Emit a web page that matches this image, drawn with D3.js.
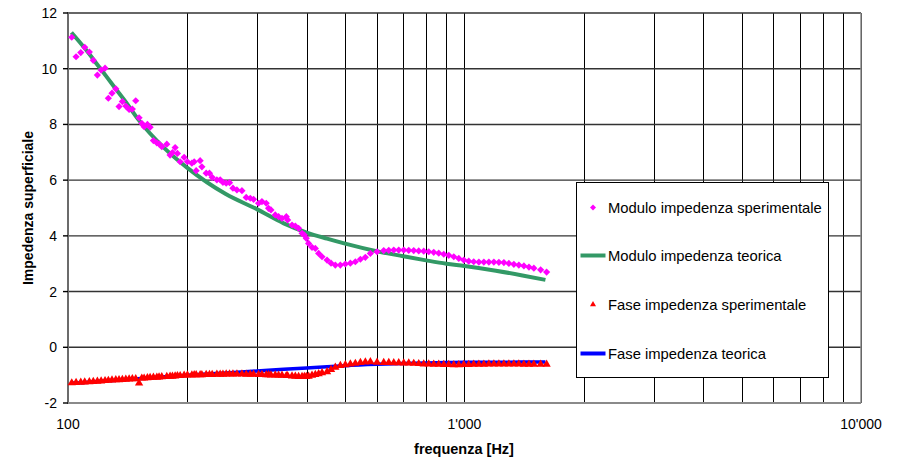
<!DOCTYPE html>
<html lang="it">
<head>
  <meta charset="utf-8" />
  <title>Impedenza superficiale</title>
  <script src="https://cdn.jsdelivr.net/npm/d3@7"></script>
  <style>
    body { margin: 0; background: #fff; }
    svg { display: block; font-family: Arial, "Liberation Sans", sans-serif; }
  </style>
</head>
<body>
<div id="chart"></div>
<script>
// measured data (frequency in Hz)
const freqExp = [102.2,104.8,107.7,110.2,113.2,115.8,118.6,121.2,124.0,126.4,129.1,132.0,134.5,137.1,139.9,142.6,145.3,148.2,151.1,153.5,
  155.6,158.6,161.1,164.2,167.5,169.7,172.4,177.5,180.9,183.4,186.3,188.8,191.8,196.3,200.1,205.3,208.1,210.5,215.4,217.6,
  223.1,227.4,231.0,237.4,242.0,245.9,250.6,255.5,260.6,266.7,274.6,281.5,288.2,293.8,302.4,308.4,316.2,320.5,325.0,333.2,
  339.7,346.5,355.3,358.0,367.3,374.4,381.6,389.3,394.5,399.0,404.4,412.5,420.5,428.7,437.2,450.1,460.7,472.3,486.3,500.6,
  515.4,530.6,546.3,562.3,578.9,601.8,625.6,644.2,663.1,682.5,702.7,723.4,744.7,766.6,789.2,812.4,836.4,861.0,886.6,912.6,
  939.7,967.4,995.9,1025,1055,1087,1119,1152,1186,1221,1257,1294,1332,1371,1412,1454,1496,1556,1611];
const moduloExp = [11.13,10.43,10.58,10.77,10.60,10.30,9.77,9.95,10.02,8.94,9.12,9.28,8.64,8.82,8.66,8.54,8.55,8.85,8.24,8.04,
  7.92,8.00,7.90,7.42,7.34,7.30,7.20,7.29,6.90,6.99,7.17,6.96,6.66,6.82,6.66,6.61,6.66,6.34,6.70,6.48,
  6.25,6.25,6.10,6.01,6.01,5.92,5.89,5.91,5.71,5.65,5.62,5.38,5.35,5.31,5.17,5.23,5.17,4.99,4.93,4.75,
  4.69,4.63,4.69,4.57,4.39,4.35,4.27,4.09,4.03,3.91,3.73,3.59,3.55,3.37,3.25,3.13,3.02,2.95,2.95,2.99,
  3.02,3.07,3.16,3.23,3.37,3.43,3.47,3.48,3.49,3.49,3.49,3.48,3.47,3.46,3.45,3.43,3.41,3.38,3.34,3.30,
  3.25,3.19,3.13,3.09,3.07,3.06,3.06,3.06,3.06,3.05,3.04,3.01,2.98,2.95,2.92,2.88,2.84,2.78,2.70];
const faseExp = [-1.28,-1.27,-1.26,-1.25,-1.24,-1.23,-1.22,-1.21,-1.20,-1.19,-1.18,-1.17,-1.17,-1.16,-1.15,-1.14,-1.13,-1.13,-1.29,-1.11,
  -1.11,-1.10,-1.09,-1.08,-1.08,-1.07,-1.06,-1.05,-1.04,-1.04,-1.03,-1.02,-1.02,-1.01,-1.00,-1.00,-0.99,-0.99,-0.99,-0.99,
  -0.98,-0.98,-0.98,-0.97,-0.97,-0.97,-0.96,-0.96,-0.96,-0.96,-0.96,-0.97,-0.97,-0.97,-0.98,-0.98,-0.99,-0.99,-1.00,-1.00,
  -1.01,-1.01,-1.02,-1.02,-1.03,-1.04,-1.05,-1.05,-1.05,-1.05,-1.04,-1.01,-0.98,-0.95,-0.92,-0.88,-0.80,-0.72,-0.66,-0.63,
  -0.60,-0.58,-0.55,-0.53,-0.52,-0.54,-0.55,-0.55,-0.56,-0.56,-0.57,-0.57,-0.58,-0.59,-0.60,-0.60,-0.61,-0.61,-0.62,-0.62,
  -0.63,-0.63,-0.62,-0.62,-0.61,-0.61,-0.61,-0.60,-0.60,-0.60,-0.60,-0.60,-0.60,-0.60,-0.61,-0.61,-0.61,-0.61,-0.61];

// theoretical curves
const freqTeo = [102,110,120,130,140,150,175,200,250,300,350,400,450,500,600,700,800,900,1000,1200,1400,1600];
const moduloTeo = [11.3,10.75,10.05,9.4,8.8,8.2,7.15,6.44,5.5,4.95,4.45,4.12,3.9,3.72,3.45,3.27,3.12,3.0,2.92,2.75,2.58,2.42];
const faseTeo = [-1.28,-1.26,-1.22,-1.19,-1.16,-1.13,-1.06,-1.0,-0.92,-0.85,-0.79,-0.74,-0.70,-0.66,-0.61,-0.58,-0.56,-0.55,-0.54,-0.54,-0.53,-0.53];

const yTicks = [-2, 0, 2, 4, 6, 8, 10, 12];
const xLabelTicks = [100, 1000, 10000];
const xLabels = ["100", "1'000", "10'000"];
const legendNames = ["Modulo impedenza sperimentale", "Modulo impedenza teorica",
                     "Fase impedenza sperimentale", "Fase impedenza teorica"];

const w = 900, h = 465;
const plotL = 68, plotR = 861, plotT = 13, plotB = 403;

const svg = d3.select("#chart").append("svg")
    .attr("width", w)
    .attr("height", h);

const x = d3.scaleLog().domain([100, 10000]).range([plotL, plotR]);
const y = d3.scaleLinear().domain([-2, 12]).range([plotB, plotT]);

// vertical gridlines: 100..900, 1000..9000, 10000
const xGrid = [];
[100, 1000].forEach(dec => { for (let k = 1; k < 10; k++) xGrid.push(dec * k); });
xGrid.push(10000);

svg.append("g").selectAll("line")
    .data(xGrid)
    .enter().append("line")
    .attr("x1", d => Math.round(x(d)) + 0.5)
    .attr("x2", d => Math.round(x(d)) + 0.5)
    .attr("y1", plotT)
    .attr("y2", plotB)
    .attr("stroke", "#000")
    .attr("stroke-width", 1);

svg.append("g").selectAll("line")
    .data(yTicks)
    .enter().append("line")
    .attr("x1", plotL)
    .attr("x2", plotR)
    .attr("y1", d => y(d))
    .attr("y2", d => y(d))
    .attr("stroke", "#333")
    .attr("stroke-width", 1.4);

// plot border
svg.append("line").attr("x1", plotL).attr("x2", plotL).attr("y1", plotT - 1).attr("y2", plotB + 1)
    .attr("stroke", "#6b6b6b").attr("stroke-width", 2);
svg.append("line").attr("x1", plotL).attr("x2", plotR).attr("y1", plotB).attr("y2", plotB)
    .attr("stroke", "#8a8a8a").attr("stroke-width", 2);
svg.append("line").attr("x1", plotR).attr("x2", plotR).attr("y1", plotT).attr("y2", plotB)
    .attr("stroke", "#8a8a8a").attr("stroke-width", 1.5);

// y tick marks and labels
svg.append("g").selectAll("line")
    .data(yTicks)
    .enter().append("line")
    .attr("x1", plotL - 5)
    .attr("x2", plotL)
    .attr("y1", d => y(d))
    .attr("y2", d => y(d))
    .attr("stroke", "#000")
    .attr("stroke-width", 1.4);

svg.append("g").selectAll("text")
    .data(yTicks)
    .enter().append("text")
    .attr("x", 57)
    .attr("y", d => y(d))
    .attr("dy", "0.36em")
    .attr("text-anchor", "end")
    .attr("font-size", "14px")
    .attr("fill", "#000")
    .text(d => d);

svg.append("g").selectAll("text")
    .data(xLabelTicks)
    .enter().append("text")
    .attr("x", d => x(d))
    .attr("y", 429)
    .attr("text-anchor", "middle")
    .attr("font-size", "14px")
    .attr("fill", "#000")
    .text((d, i) => xLabels[i]);

// axis titles
svg.append("text")
    .attr("x", 464)
    .attr("y", 454)
    .attr("text-anchor", "middle")
    .attr("font-size", "14.5px")
    .attr("font-weight", "bold")
    .text("frequenza [Hz]");

svg.append("text")
    .attr("transform", "translate(33," + ((plotT + plotB) / 2) + ") rotate(-90)")
    .attr("text-anchor", "middle")
    .attr("font-size", "14px")
    .attr("font-weight", "bold")
    .text("Impedenza superficiale");

// theoretical lines
const teoLine = vals => d3.line()
    .x((d, i) => x(freqTeo[i]))
    .y(d => y(d))
    .curve(d3.curveMonotoneX)(vals);

svg.append("path")
    .attr("d", teoLine(moduloTeo))
    .attr("fill", "none")
    .attr("stroke", "#339966")
    .attr("stroke-width", 4);

svg.append("path")
    .attr("d", teoLine(faseTeo))
    .attr("fill", "none")
    .attr("stroke", "#0000ff")
    .attr("stroke-width", 3.5);

// experimental markers
const diamond = d3.symbol().type(d3.symbolSquare).size(26);
const triangle = d3.symbol().type(d3.symbolTriangle).size(30);

svg.append("g").selectAll("path")
    .data(moduloExp)
    .enter().append("path")
    .attr("d", diamond)
    .attr("transform", (d, i) => "translate(" + x(freqExp[i]) + "," + y(d) + ") rotate(45)")
    .attr("fill", "#ff00ff");

svg.append("g").selectAll("path")
    .data(faseExp)
    .enter().append("path")
    .attr("d", triangle)
    .attr("transform", (d, i) => "translate(" + x(freqExp[i]) + "," + y(d) + ")")
    .attr("fill", "#ff0000");

// legend
const lg = svg.append("g").attr("transform", "translate(576.5,182.5)");
lg.append("rect")
    .attr("width", 252)
    .attr("height", 195)
    .attr("fill", "#fff")
    .attr("stroke", "#000")
    .attr("stroke-width", 1);

const rowY = [25, 73, 122, 171];
lg.selectAll("text")
    .data(legendNames)
    .enter().append("text")
    .attr("x", 31.5)
    .attr("y", (d, i) => rowY[i])
    .attr("dy", "0.36em")
    .attr("font-size", "14.8px")
    .attr("fill", "#000")
    .text(d => d);

lg.append("path").attr("d", d3.symbol().type(d3.symbolSquare).size(18))
    .attr("transform", "translate(16.5," + rowY[0] + ") rotate(45)").attr("fill", "#ff00ff");
lg.append("line").attr("x1", 4).attr("x2", 29).attr("y1", rowY[1]).attr("y2", rowY[1])
    .attr("stroke", "#339966").attr("stroke-width", 4);
lg.append("path").attr("d", d3.symbol().type(d3.symbolTriangle).size(16))
    .attr("transform", "translate(16.5," + rowY[2] + ")").attr("fill", "#ff0000");
lg.append("line").attr("x1", 4).attr("x2", 29).attr("y1", rowY[3]).attr("y2", rowY[3])
    .attr("stroke", "#0000ff").attr("stroke-width", 4);
</script>
</body>
</html>
